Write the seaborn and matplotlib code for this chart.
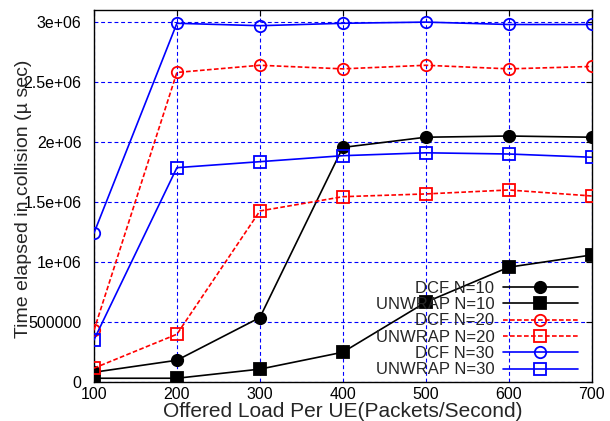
import matplotlib
matplotlib.use("Agg")
import matplotlib.pyplot as plt
import seaborn as sns
import pandas as pd

# Offered load per UE (packets/second)
load = [100, 200, 300, 400, 500, 600, 700]

# Time elapsed in collision (micro-seconds)
dcf_n10 = [80000, 180000, 536000, 1955000, 2040000, 2050000, 2040000]
unwrap_n10 = [30000, 30000, 106000, 247000, 664000, 956000, 1058000]
dcf_n20 = [430000, 2580000, 2640000, 2610000, 2640000, 2610000, 2630000]
unwrap_n20 = [114000, 397000, 1425000, 1544000, 1567000, 1600000, 1550000]
dcf_n30 = [1240000, 2990000, 2970000, 2990000, 3000000, 2980000, 2980000]
unwrap_n30 = [350000, 1786000, 1836000, 1886000, 1910000, 1900000, 1873000]

series_names = ["DCF N=10", "UNWRAP N=10", "DCF N=20",
                "UNWRAP N=20", "DCF N=30", "UNWRAP N=30"]
series_values = [dcf_n10, unwrap_n10, dcf_n20, unwrap_n20, dcf_n30, unwrap_n30]

y_ticks = [0, 500000, 1000000, 1500000, 2000000, 2500000, 3000000]
y_tick_labels = ["0", "500000", "1e+06", "1.5e+06", "2e+06", "2.5e+06", "3e+06"]

sns.set_style("white")
plt.rcParams["font.family"] = ["Liberation Sans", "DejaVu Sans"]

df = pd.DataFrame(
    [(name, x, y) for name, vals in zip(series_names, series_values)
     for x, y in zip(load, vals)],
    columns=["series", "load", "time"],
)

dash = (0, (2.8, 1.4))
styles = {
    "DCF N=10": dict(color="black", marker="o", ls="-", mfc="black"),
    "UNWRAP N=10": dict(color="black", marker="s", ls="-", mfc="black"),
    "DCF N=20": dict(color="#ff0000", marker="o", ls=dash, mfc="none"),
    "UNWRAP N=20": dict(color="#ff0000", marker="s", ls=dash, mfc="none"),
    "DCF N=30": dict(color="#0000ff", marker="o", ls="-", mfc="none"),
    "UNWRAP N=30": dict(color="#0000ff", marker="s", ls="-", mfc="none"),
}

fig = plt.figure(figsize=(6.1, 4.21), dpi=100)
ax = fig.add_axes([0.154, 0.093, 0.816, 0.883])

for name in series_names:
    st = styles[name]
    sub = df[df["series"] == name]
    sns.lineplot(
        data=sub, x="load", y="time", ax=ax, color=st["color"],
        linestyle=st["ls"], linewidth=1.2, marker=st["marker"],
        markersize=8.2 if st["marker"] == "o" else 8.0,
        markerfacecolor=st["mfc"], markeredgecolor=st["color"],
        markeredgewidth=1.3, label=name, zorder=3,
    )

ax.set_xlim(100, 700)
ax.set_ylim(0, 3100000)
ax.set_xticks(load)
ax.set_xticklabels([str(v) for v in load])
ax.set_yticks(y_ticks)
ax.set_yticklabels(y_tick_labels)

ax.grid(True, color="#0000ff", linestyle=(0, (3.5, 2.5)), linewidth=0.8)
for s in ax.spines.values():
    s.set_color("black")
    s.set_linewidth(1.0)

ax.tick_params(axis="both", direction="in", length=4, width=0.8,
               labelsize=11.5, top=True, right=True, colors="black")
ax.tick_params(axis="y", pad=9)
ax.tick_params(axis="x", pad=4)

ax.set_xlabel("Offered Load Per UE(Packets/Second)", fontsize=15, labelpad=0)
ax.set_ylabel("Time elapsed in collision (\u00b5 sec)", fontsize=14)
ax.yaxis.set_label_coords(-0.1245, 0.493)

ax.legend(loc="lower right", frameon=False, markerfirst=False, fontsize=12,
          handlelength=4.5, handletextpad=0.5, labelspacing=0.08,
          borderpad=0, borderaxespad=0, bbox_to_anchor=(0.972, 0.012))

fig.savefig("out.png", dpi=100)
